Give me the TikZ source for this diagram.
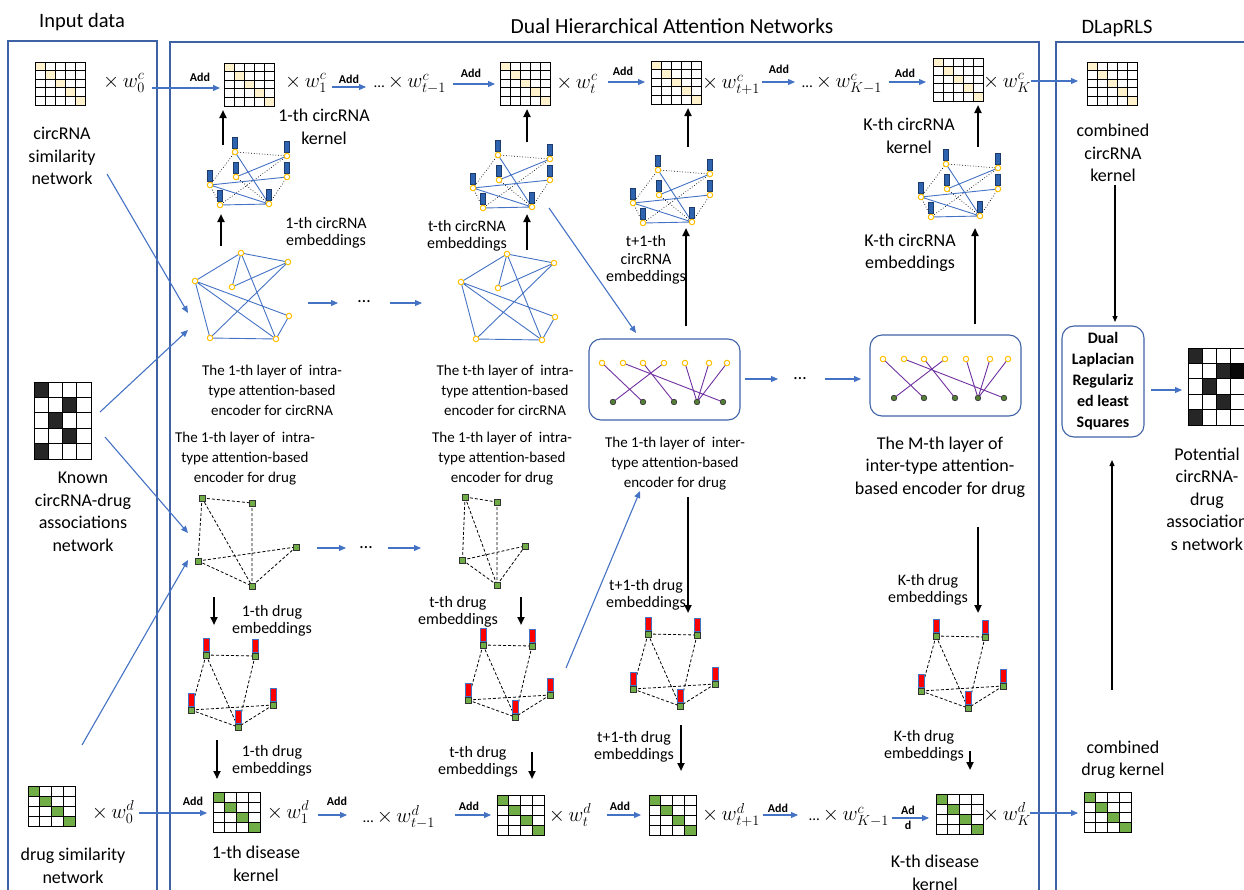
\documentclass[tikz,border=0pt]{standalone}
\usepackage{fontspec}
\setmainfont{Carlito}
\usetikzlibrary{arrows.meta,calc}
\definecolor{panel}{HTML}{3F62A6}
\definecolor{ablue}{HTML}{4472C4}
\definecolor{cyel}{HTML}{FFF2CC}
\definecolor{gold}{HTML}{FFC000}
\definecolor{dgreen}{HTML}{70AD47}
\definecolor{purp}{HTML}{7030A0}
\definecolor{rblue}{HTML}{2E63B0}

\def\intracpts{a/0/0,b/47/9,c/-46/28,d/-9/34,e/48/63,f/-31/85,g/35/86}
\def\embcpts{a/0/0,b/52/4,c/1/25,d/52/25,e/-25/33,f/-15/53,g/34/52}
\def\intradpts{a/0/0,b/50/5,c/94/49,d/-4/63,e/50/88}
\def\embdpts{a/0/0,b/49/1,c/-15/55,d/67/50,e/32/72}

\tikzset{
  panelbox/.style={draw=panel, line width=2.2pt},
  barrow/.style={draw=ablue, line width=1.1pt, -{Triangle[length=7pt,width=6pt]}},
  karrow/.style={draw=black, line width=2pt, -{Triangle[length=8pt,width=7pt]}},
  thinkarrow/.style={draw=black, line width=1.2pt, -{Triangle[length=6pt,width=5pt]}},
  ttl/.style={font=\fontsize{20.5}{24}\selectfont, inner sep=0pt},
  lbl/.style={font=\fontsize{18}{22.5}\selectfont, align=center, inner sep=0pt},
  slbl/.style={font=\fontsize{16}{17.5}\selectfont, align=center, inner sep=0pt},
  mlbl/.style={font=\fontsize{15}{20}\selectfont, align=center, inner sep=0pt},
  addl/.style={font=\bfseries\fontsize{12}{14}\selectfont, inner sep=0pt},
  wt/.style={font=\fontsize{21}{24}\selectfont, inner sep=0pt},
  yel/.style={circle, draw=gold, fill=white, line width=1pt, minimum size=5.5pt, inner sep=0pt},
  grn/.style={rectangle, draw=black!80, fill=dgreen, line width=0.6pt, minimum size=6pt, inner sep=0pt},
  gdot/.style={circle, draw=black!75, fill=dgreen!75!black, line width=0.8pt, minimum size=5.5pt, inner sep=0pt},
  bedge/.style={draw=ablue, line width=0.9pt},
  kdot/.style={draw=black, line width=0.7pt, dotted},
  kdash/.style={draw=black, line width=0.8pt, dash pattern=on 3pt off 2pt},
  pedge/.style={draw=purp, line width=0.9pt},
  framebox/.style={draw, line width=1pt, inner sep=0pt, anchor=north west},
  % circRNA kernel matrix: 5x5 with a pale yellow diagonal (origin = top-left corner)
  cmat/.pic={
    \foreach \k in {0,...,4}{\fill[cyel] (\k*10,\k*8.6) rectangle ++(10,8.6);}
    \foreach \k in {1,...,4}{\draw[line width=0.9pt] (\k*10,0) -- ++(0,43) (0,\k*8.6) -- ++(50,0);}
    \node[framebox, minimum width=50pt, minimum height=43pt] (-box) at (0,0) {};
  },
  % drug kernel matrix: 4x4 with a green diagonal
  dmat/.pic={
    \foreach \k in {0,...,3}{\fill[dgreen] (\k*11.75,\k*10) rectangle ++(11.75,10);}
    \foreach \k in {1,...,3}{\draw[line width=0.9pt] (\k*11.75,0) -- ++(0,40) (0,\k*10) -- ++(47,0);}
    \node[framebox, minimum width=47pt, minimum height=40pt] (-box) at (0,0) {};
  },
  % known association matrix
  kmat/.pic={
    \foreach \c/\r in {0/0,2/1,1/2,2/3,0/4}{\fill[black!85] (\c*14.25,\r*15.4) rectangle ++(14.25,15.4);}
    \foreach \k in {1,...,3}{\draw[line width=0.9pt] (\k*14.25,0) -- ++(0,77);}
    \foreach \k in {1,...,4}{\draw[line width=0.9pt] (0,\k*15.4) -- ++(57,0);}
    \node[framebox, minimum width=57pt, minimum height=77pt] (-box) at (0,0) {};
  },
  % predicted association matrix
  pmat/.pic={
    \foreach \c/\r in {0/0,2/1,1/2,2/3,0/4}{\fill[black!85] (\c*14,\r*15.4) rectangle ++(14,15.4);}
    \fill[black!97] (3*14,15.4) rectangle ++(14,15.4);
    \foreach \k in {1,...,4}{\draw[line width=0.9pt] (\k*14,0) -- ++(0,77) (0,\k*15.4) -- ++(70,0);}
    \node[framebox, minimum width=70pt, minimum height=77pt] (-box) at (0,0) {};
  },
  % intra-type attention layer over circRNAs
  intrac/.pic={
    \foreach \n/\x/\y in \intracpts {\coordinate (-\n) at (\x,\y);}
    \draw[bedge] (-a)--(-b) (-a)--(-c) (-a)--(-d) (-a)--(-g) (-b)--(-d) (-c)--(-e)
                 (-c)--(-g) (-c)--(-f) (-f)--(-b) (-f)--(-g) (-e)--(-g);
    \foreach \n/\x/\y in \intracpts {\node[yel] (-\n o) at (\x,\y) {};}
  },
  % circRNA embeddings with their feature bars
  embc/.pic={
    \foreach \n/\x/\y in \embcpts {\coordinate (-\n) at (\x,\y);}
    \draw[kdot] (-a)--(-b) (-a)--(-e) (-b)--(-f) (-c)--(-g) (-d)--(-g) (-e)--(-f);
    \draw[bedge] (-a)--(-g) (-b)--(-c) (-e)--(-d) (-e)--(-g) (-f)--(-g);
    \foreach \n/\x/\y in \embcpts {
      \draw[fill=rblue, draw=rblue!60!black, line width=0.5pt] (\x-2.7,\y-15) rectangle (\x+2.7,\y-3.5);
      \node[yel] (-\n o) at (\x,\y) {};}
  },
  % intra-type attention layer over drugs
  intrad/.pic={
    \foreach \n/\x/\y in \intradpts {\coordinate (-\n) at (\x,\y);}
    \draw[kdash] (-a)--(-b) (-a)--(-d) (-a)--(-e) (-b)--(-e) (-d)--(-c) (-d)--(-e) (-c)--(-e);
    \foreach \n/\x/\y in \intradpts {\node[grn] (-\n o) at (\x,\y) {};}
  },
  % drug embeddings with their feature bars
  embd/.pic={
    \foreach \n/\x/\y in \embdpts {\coordinate (-\n) at (\x,\y);}
    \draw[kdash] (-a)--(-b) (-a)--(-c) (-a)--(-e) (-b)--(-e) (-c)--(-d) (-c)--(-e) (-d)--(-e);
    \foreach \n/\x/\y in \embdpts {
      \draw[fill=red, draw=ablue, line width=0.9pt] (\x-3,\y-17) rectangle (\x+3,\y-3.5);
      \node[grn] (-\n o) at (\x,\y) {};}
  },
  % inter-type attention layer (circRNA to drug)
  bip/.pic={
    \draw[draw=panel, line width=1.1pt, rounded corners=12pt] (0,0) rectangle (151,81);
    \foreach \n/\x in {1/13,2/34,3/54,4/75,5/96,6/120,7/138} {\coordinate (-t\n) at (\x,24);}
    \foreach \n/\x in {1/24,2/54,3/85,4/108,5/134} {\coordinate (-b\n) at (\x,63);}
    \draw[pedge] (-t1)--(-b2) (-t2)--(-b5) (-t3)--(-b3) (-t4)--(-b1) (-t5)--(-b4) (-t6)--(-b4) (-t7)--(-b4);
    \foreach \n/\x in {1/13,2/34,3/54,4/75,5/96,6/120,7/138} {\node[yel] (-t\n o) at (\x,24) {};}
    \foreach \n/\x in {1/24,2/54,3/85,4/108,5/134} {\node[gdot] (-b\n o) at (\x,63) {};}
  }
}

\begin{document}
\begin{tikzpicture}[x=1pt,y=-1pt]
\useasboundingbox (0,0) rectangle (1244,889);

% panels and their titles
\draw[panelbox] (8,41) rectangle (157,900);
\draw[panelbox] (170,42) rectangle (1039,900);
\draw[panelbox] (1056,42) rectangle (1262,900);
\node[ttl] (tin) at (82,22) {Input data};
\node[ttl, font=\fontsize{21.5}{24}\selectfont] (tdh) at (672,26) {Dual Hierarchical Attention Networks};
\node[ttl] (tdl) at (1117,28) {DLapRLS};

% ---------------- input data ----------------
\pic (in0) at (35,62) {cmat};
\node[wt] (w0c) at (124,83) {$\times\, w_0^c$};
\node[lbl] (lcs) at (62,156) {circRNA\\similarity\\network};
\pic (known) at (34,382) {kmat};
\node[lbl] (lkn) at (83,512) {Known\\circRNA-drug\\associations\\network};
\pic (d0) at (28,786) {dmat};
\node[wt] (w0d) at (113,812) {$\times\, w_0^d$};
\node[lbl] (lds) at (73,866) {drug similarity\\network};

% ---------------- circRNA kernel chain ----------------
\pic (c1) at (224,63) {cmat};
\pic (ct) at (500,62) {cmat};
\pic (ct1) at (651,61) {cmat};
\pic (cK) at (933,58) {cmat};
\pic (cc) at (1087,62) {cmat};
\node[wt] (w1c) at (306,83) {$\times\, w_1^c$};
\node[wt] (wtm) at (410,84) {\fontsize{15}{18}\selectfont…\ \fontsize{21}{24}\selectfont$\times\, w_{t-1}^c$};
\node[wt] (wtc) at (577,84) {$\times\, w_t^c$};
\node[wt] (wt1c) at (731,85) {$\times\, w_{t+1}^c$};
\node[wt] (wKm) at (842,84) {\fontsize{15}{18}\selectfont…\ \fontsize{21}{24}\selectfont$\times\, w_{K-1}^c$};
\node[wt] (wKc) at (1007,83) {$\times\, w_K^c$};

\coordinate (a0s) at (152,88);  \coordinate (a0e) at (220,88);
\coordinate (a1s) at (332,87);  \coordinate (a1e) at (366,87);
\coordinate (a2s) at (453,84);  \coordinate (a2e) at (495,84);
\coordinate (a3s) at (608,82);  \coordinate (a3e) at (645,82);
\coordinate (a4s) at (762,82);  \coordinate (a4e) at (795,82);
\coordinate (a5s) at (889,82);  \coordinate (a5e) at (926,82);
\coordinate (a6s) at (1031,81); \coordinate (a6e) at (1078,81);
\foreach \k in {0,...,6} {\draw[barrow] (a\k s) -- (a\k e);}
\node[addl] (ad0) at (200,77) {Add};
\node[addl] (ad1) at (349,79) {Add};
\node[addl] (ad2) at (471,73) {Add};
\node[addl] (ad3) at (623,71) {Add};
\node[addl] (ad4) at (779,69) {Add};
\node[addl] (ad5) at (905,73) {Add};

\node[lbl] (lk1) at (324,127) {1-th circRNA\\kernel};
\node[lbl] (lkK) at (909,136) {K-th circRNA\\kernel};
\node[lbl] (lcc) at (1113,153) {combined\\circRNA\\kernel};

% circRNA embeddings
\pic (e1) at (235,152) {embc};
\pic (et) at (498,155) {embc};
\pic (et1) at (658,170) {embc};
\pic (eK) at (946,164) {embc};
\coordinate (u1s) at (223,145);  \coordinate (u1e) at (223,110);
\coordinate (uts) at (527,142);  \coordinate (ute) at (527,109);
\coordinate (ut1s) at (688,147); \coordinate (ut1e) at (688,108);
\coordinate (uKs) at (978,147);  \coordinate (uKe) at (978,105);
\draw[karrow] (u1s) -- (u1e);
\draw[karrow] (uts) -- (ute);
\draw[karrow] (ut1s) -- (ut1e);
\draw[karrow] (uKs) -- (uKe);

\node[slbl] (le1) at (326,233) {1-th circRNA\\embeddings};
\node[slbl] (let) at (467,236) {t-th circRNA\\embeddings};
\node[slbl] (let1) at (646,260) {t+1-th\\circRNA\\embeddings};
\node[lbl] (leK) at (910,253) {K-th circRNA\\embeddings};

% intra-type attention over circRNAs
\pic (g1) at (241,253) {intrac};
\pic (gt) at (507,254) {intrac};
\coordinate (v1s) at (221,246); \coordinate (v1e) at (221,214);
\coordinate (vts) at (527,250); \coordinate (vte) at (527,214);
\draw[karrow] (v1s) -- (v1e);
\draw[karrow] (vts) -- (vte);
\coordinate (h1s) at (308,303); \coordinate (h1e) at (338,303);
\coordinate (h2s) at (390,303); \coordinate (h2e) at (422,303);
\draw[barrow] (h1s) -- (h1e);
\node[lbl] (dots1) at (364,302) {…};
\draw[barrow] (h2s) -- (h2e);
\node[mlbl] (lg1) at (272,390) {The 1-th layer of\ \ intra-\\type attention-based\\encoder for circRNA};
\node[mlbl] (lgt) at (505,390) {The t-th layer of\ \ intra-\\type attention-based\\encoder for circRNA};

% inter-type attention layers
\pic (b1) at (589,339) {bip};
\pic (bM) at (870,335) {bip};
\coordinate (i1s) at (745,379); \coordinate (i1e) at (778,379);
\coordinate (i2s) at (825,379); \coordinate (i2e) at (861,379);
\draw[barrow] (i1s) -- (i1e);
\node[lbl] (dots3) at (800,379) {…};
\draw[barrow] (i2s) -- (i2e);
\coordinate (x1s) at (686,326); \coordinate (x1e) at (686,228);
\coordinate (xKs) at (975,324); \coordinate (xKe) at (975,228);
\draw[karrow] (x1s) -- (x1e);
\draw[karrow] (xKs) -- (xKe);
\node[mlbl] (lb1) at (675,464) {The 1-th layer of\ \ inter-\\type attention-based\\encoder for drug};
\node[lbl] (lbM) at (940,467) {The M-th layer of\\inter-type attention-\\based encoder for drug};

% intra-type attention over drugs
\node[mlbl] (ld1) at (245,459) {The 1-th layer of\ \ intra-\\type attention-based\\encoder for drug};
\node[mlbl] (ldt) at (502,459) {The 1-th layer of\ \ intra-\\type attention-based\\encoder for drug};
\pic (q1) at (202,498) {intrad};
\pic[xscale=0.64] (qt) at (465,497) {intrad};
\coordinate (j1s) at (317,548); \coordinate (j1e) at (346,548);
\coordinate (j2s) at (388,548); \coordinate (j2e) at (421,548);
\draw[barrow] (j1s) -- (j1e);
\node[lbl] (dots2) at (366,548) {…};
\draw[barrow] (j2s) -- (j2e);

% drug embeddings
\pic (f1) at (206,655) {embd};
\pic (ft) at (483,645) {embd};
\pic (ft1) at (648,634) {embd};
\pic (fK) at (936,636) {embd};

\coordinate (p1s) at (214,597); \coordinate (p1e) at (214,625);
\coordinate (pts) at (521,597); \coordinate (pte) at (521,625);
\coordinate (pt1s) at (688,497); \coordinate (pt1e) at (688,613);
\coordinate (pKs) at (978,527); \coordinate (pKe) at (978,613);
\draw[karrow] (p1s) -- (p1e);
\draw[karrow] (pts) -- (pte);
\draw[karrow] (pt1s) -- (pt1e);
\draw[karrow] (pKs) -- (pKe);
\node[slbl] (lf1) at (272,621) {1-th drug\\embeddings};
\node[slbl] (lft) at (458,612) {t-th drug\\embeddings};
\node[slbl] (lft1) at (646,595) {t+1-th drug\\embeddings};
\node[slbl] (lfK) at (928,590) {K-th drug\\embeddings};

\coordinate (r1s) at (217,740); \coordinate (r1e) at (217,779);
\coordinate (rts) at (532,752); \coordinate (rte) at (532,779);
\coordinate (rt1s) at (681,725); \coordinate (rt1e) at (681,771);
\coordinate (rKs) at (970,751); \coordinate (rKe) at (970,770);
\draw[karrow] (r1s) -- (r1e);
\draw[karrow] (rts) -- (rte);
\draw[karrow] (rt1s) -- (rt1e);
\draw[karrow] (rKs) -- (rKe);
\node[slbl] (lr1) at (272,761) {1-th drug\\embeddings};
\node[slbl] (lrt) at (478,762) {t-th drug\\embeddings};
\node[slbl] (lrt1) at (634,747) {t+1-th drug\\embeddings};
\node[slbl] (lrK) at (924,746) {K-th drug\\embeddings};

% ---------------- drug kernel chain ----------------
\pic (d1) at (213,792) {dmat};
\pic (dt) at (497,795) {dmat};
\pic (dt1) at (649,795) {dmat};
\pic (dK) at (936,794) {dmat};
\pic (dc) at (1084,792) {dmat};
\node[wt] (w1d) at (288,812) {$\times\, w_1^d$};
\node[wt] (wtmd) at (399,817) {\fontsize{15}{18}\selectfont…\ \fontsize{21}{24}\selectfont$\times\, w_{t-1}^d$};
\node[wt] (wtd) at (570,815) {$\times\, w_t^d$};
\node[wt] (wt1d) at (731,815) {$\times\, w_{t+1}^d$};
\node[wt] (wKmd) at (849,817) {\fontsize{15}{18}\selectfont…\ \fontsize{21}{24}\selectfont$\times\, w_{K-1}^c$};
\node[wt] (wKd) at (1007,814) {$\times\, w_K^d$};

\coordinate (b0s) at (139,813);  \coordinate (b0e) at (207,813);
\coordinate (b1s) at (318,815);  \coordinate (b1e) at (347,815);
\coordinate (b2s) at (455,815);  \coordinate (b2e) at (491,815);
\coordinate (b3s) at (607,815);  \coordinate (b3e) at (641,815);
\coordinate (b4s) at (763,815);  \coordinate (b4e) at (798,815);
\coordinate (b5s) at (892,818);  \coordinate (b5e) at (929,818);
\coordinate (b6s) at (1030,813); \coordinate (b6e) at (1078,813);
\foreach \k in {0,...,6} {\draw[barrow] (b\k s) -- (b\k e);}
\node[addl] (bd0) at (193,801) {Add};
\node[addl] (bd1) at (337,801) {Add};
\node[addl] (bd2) at (469,806) {Add};
\node[addl] (bd3) at (620,806) {Add};
\node[addl] (bd4) at (778,808) {Add};
\node[addl, align=center] (bd5) at (908,818) {Ad\\[1pt]d};

\node[lbl] (ldk1) at (256,864) {1-th disease\\kernel};
\node[lbl] (ldkK) at (935,873) {K-th disease\\kernel};
\node[lbl] (ldc) at (1123,760) {combined\\drug kernel};

% ---------------- cross links ----------------
\coordinate (l1s) at (107,174); \coordinate (l1e) at (188,313);
\coordinate (l2s) at (100,412); \coordinate (l2e) at (188,330);
\coordinate (l3s) at (105,437); \coordinate (l3e) at (188,533);
\coordinate (l4s) at (82,745);  \coordinate (l4e) at (188,560);
\coordinate (l5s) at (549,208); \coordinate (l5e) at (636,333);
\coordinate (l6s) at (566,668); \coordinate (l6e) at (640,491);
\foreach \k in {1,...,6} {\draw[barrow] (l\k s) -- (l\k e);}

% ---------------- DLapRLS ----------------
\node[draw=panel, line width=1.1pt, rounded corners=12pt, minimum width=82pt, minimum height=111pt,
      align=center, inner sep=0pt, font=\bfseries\fontsize{16}{21}\selectfont] (dl) at (1103,381.5)
      {Dual\\Laplacian\\Regulariz\\ed least\\Squares};
\pic (pm) at (1188,348) {pmat};
\coordinate (dcs) at (1115,185); \coordinate (dce) at (1115,322);
\draw[thinkarrow] (dcs) -- (dce);
\coordinate (dus) at (1112,690); \coordinate (due) at (1112,460);
\draw[thinkarrow] (dus) -- (due);
\coordinate (dos) at (1151,390); \coordinate (doe) at (1182,390);
\draw[barrow] (dos) -- (doe);
\node[lbl] (lpm) at (1207,499) {Potential\\circRNA-\\drug\\association\\s network};
\end{tikzpicture}
\end{document}
